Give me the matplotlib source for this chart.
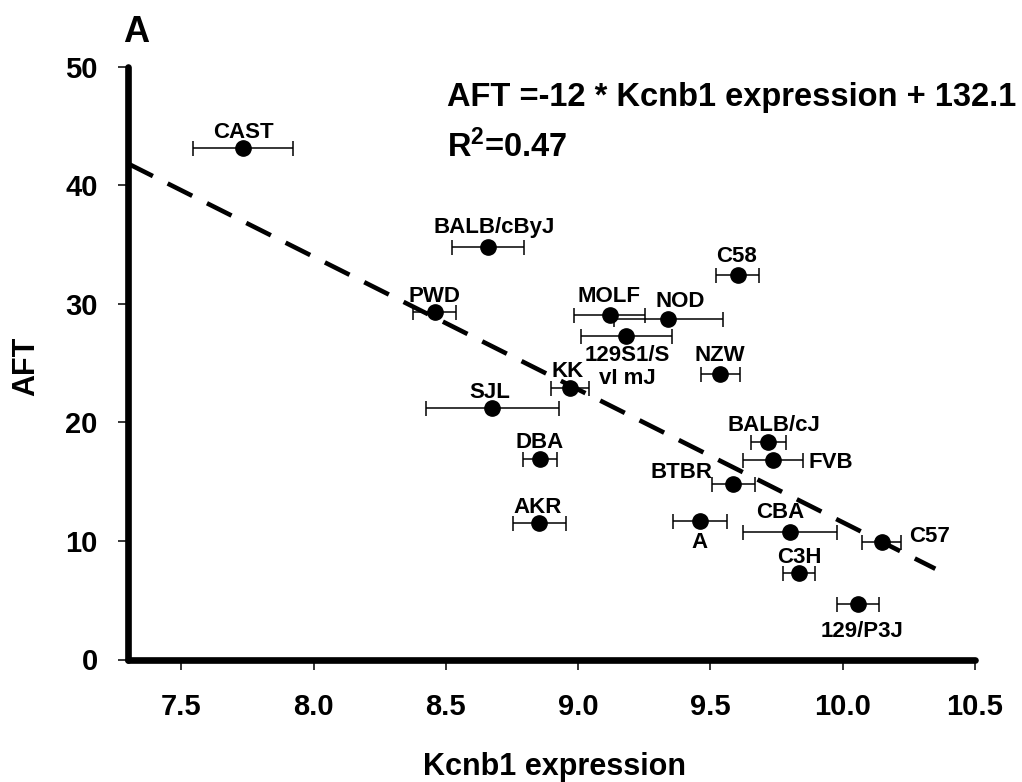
import matplotlib
matplotlib.use('Agg')
import matplotlib.pyplot as plt

plt.rcParams['font.family'] = ['Liberation Sans', 'DejaVu Sans']
plt.rcParams['font.weight'] = 'bold'
plt.rcParams['mathtext.fontset'] = 'custom'
plt.rcParams['mathtext.rm'] = 'Liberation Sans:bold'
plt.rcParams['mathtext.bf'] = 'Liberation Sans:bold'
plt.rcParams['mathtext.it'] = 'Liberation Sans:bold'

# ---- data ----
strains = ["CAST", "BALB/cByJ", "PWD", "MOLF", "NOD", "129S1/S\nvI mJ", "NZW", "C58",
           "KK", "SJL", "DBA", "AKR", "BALB/cJ", "FVB", "BTBR", "A", "CBA", "C3H",
           "C57", "129/P3J"]
kcnb1 = [7.735, 8.659, 8.458, 9.119, 9.341, 9.182, 9.537, 9.603,
         8.970, 8.676, 8.856, 8.853, 9.719, 9.736, 9.587, 9.461, 9.801, 9.835,
         10.147, 10.059]
kcnb1_err = [0.189, 0.136, 0.082, 0.134, 0.206, 0.172, 0.074, 0.080,
             0.073, 0.250, 0.065, 0.100, 0.067, 0.113, 0.082, 0.102, 0.178, 0.061,
             0.075, 0.080]
aft = [43.15, 34.8, 29.33, 29.05, 28.68, 27.3, 24.07, 32.45,
       22.85, 21.23, 16.88, 11.48, 18.3, 16.8, 14.8, 11.72, 10.78, 7.27,
       9.93, 4.7]
fit_x = [7.3, 10.35]
fit_y = [41.8, 7.65]
x_ticks = [7.5, 8.0, 8.5, 9.0, 9.5, 10.0, 10.5]
y_ticks = [0, 10, 20, 30, 40, 50]

# label placement (pixel offsets, ha, va)
label_pos = [(0, 10, 'center', 'baseline'), (6, 14, 'center', 'baseline'),
             (0, 10, 'center', 'baseline'), (-1, 13, 'center', 'baseline'),
             (12, 12, 'center', 'baseline'), (1, -9, 'center', 'top'),
             (0, 13, 'center', 'baseline'), (-1.5, 13, 'center', 'baseline'),
             (-3, 11, 'center', 'baseline'), (-3, 10, 'center', 'baseline'),
             (0, 11, 'center', 'baseline'), (-1.5, 10, 'center', 'baseline'),
             (5.6, 11, 'center', 'baseline'), (36, -8, 'left', 'baseline'),
             (-20.6, 5.7, 'right', 'baseline'), (-1, -27, 'center', 'baseline'),
             (-9.3, 14, 'center', 'baseline'), (0, 10, 'center', 'baseline'),
             (28, 0, 'left', 'baseline'), (4, -33, 'center', 'baseline')]

W, H = 1022, 782
fig = plt.figure(figsize=(W / 100, H / 100), dpi=100)
ax = fig.add_axes([128.3 / W, 1 - 659.5 / H, (975 - 128.3) / W, (659.5 - 66.5) / H])

ax.plot(fit_x, fit_y, color='black', lw=3.3, linestyle=(0, (6, 3.6)), zorder=2)
ax.errorbar(kcnb1, aft, xerr=kcnb1_err, fmt='o', color='black', ms=11,
            elinewidth=1.1, capsize=5.4, capthick=1.1, zorder=3)

for name, xv, yv, (dx, dy, ha, va) in zip(strains, kcnb1, aft, label_pos):
    ax.annotate(name, (xv, yv), xytext=(dx, dy), textcoords='offset pixels',
                ha=ha, va=va, fontsize=16, fontweight='bold', linespacing=1.15,
                zorder=4)

ax.set_xlim(7.3, 10.5)
ax.set_ylim(0, 50)
ax.set_xticks(x_ticks)
ax.set_xticklabels([f"{v:.1f}" for v in x_ticks])
ax.set_yticks(y_ticks)
for s in ['top', 'right']:
    ax.spines[s].set_visible(False)
for s in ['left', 'bottom']:
    ax.spines[s].set_linewidth(4.8)
    ax.spines[s].set_capstyle('round')
ax.tick_params(direction='out', length=7, width=1.1, labelsize=21)
ax.tick_params(axis='x', pad=17)
ax.tick_params(axis='y', pad=15)
for lab in ax.get_xticklabels() + ax.get_yticklabels():
    lab.set_fontweight('bold')

fig.text(554 / W, 1 - 775 / H, "Kcnb1 expression", ha='center', va='baseline',
         fontsize=22, fontweight='bold')
fig.text(26 / W, 1 - 366 / H, "AFT", ha='center', va='center', rotation=90,
         fontsize=22, fontweight='bold')
fig.text(446.7 / W, 1 - 106 / H, "AFT =-12 * Kcnb1 expression + 132.1",
         ha='left', va='baseline', fontsize=23.5, fontweight='bold')
fig.text(446.7 / W, 1 - 156.7 / H, r"R$^{2}$=0.47",
         ha='left', va='baseline', fontsize=23.5, fontweight='bold')
fig.text(123 / W, 1 - 42 / H, "A", ha='left', va='baseline',
         fontsize=26, fontweight='bold')

fig.savefig('out.png', dpi=100)
